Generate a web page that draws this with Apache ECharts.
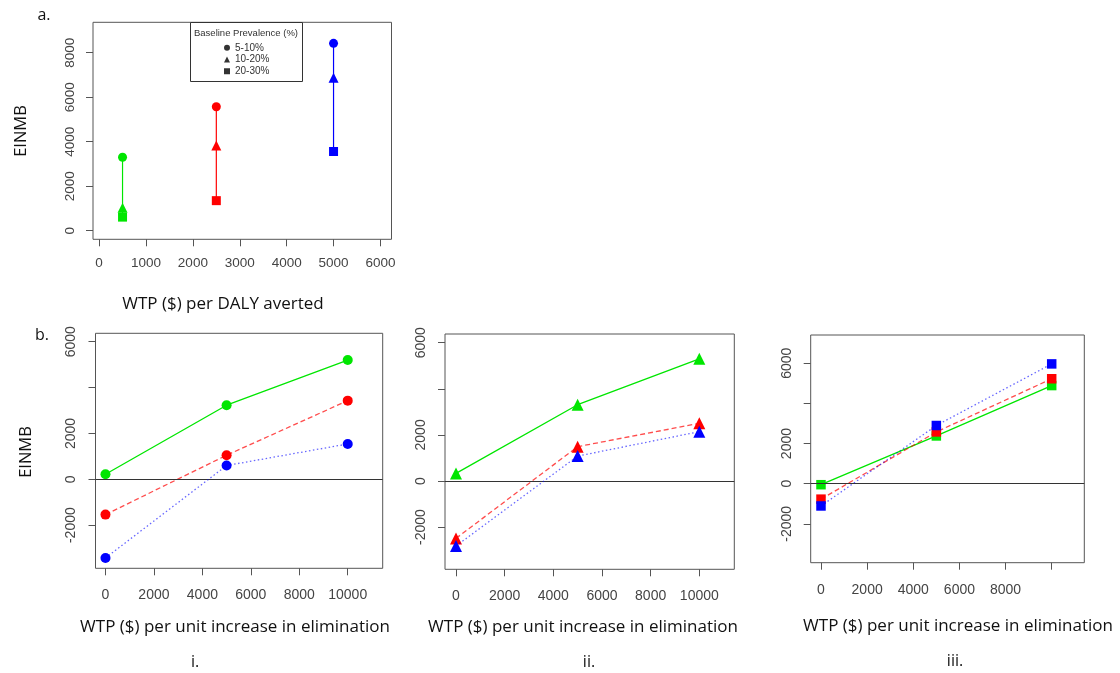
<!DOCTYPE html>
<html>
<head>
<meta charset="utf-8">
<script src="https://cdn.jsdelivr.net/npm/echarts@6/dist/echarts.min.js"></script>
<style>
html,body{margin:0;padding:0;background:#fff;}
#chart{width:1120px;height:673px;}
</style>
</head>
<body>
<div id="chart"></div>
<script>
// ---------- Panel a data ----------
const aWtpPerDaly = [500, 2500, 5000];
const aPrev5to10 = [3300, 5570, 8420];
const aPrev10to20 = [1030, 3830, 6870];
const aPrev20to30 = [610, 1350, 3560];
const aColors = ['#00e600', '#ff0000', '#0000ff'];
const prevalenceLabels = ['5-10%', '10-20%', '20-30%'];

// ---------- Panel b data ----------
const bWtpElim = [0, 5000, 10000];
// i. (circles)
const bi_green = [220, 3230, 5200];
const bi_red = [-1540, 1050, 3430];
const bi_blue = [-3430, 600, 1540];
// ii. (triangles)
const bii_green = [330, 3310, 5300];
const bii_red = [-2490, 1490, 2500];
const bii_blue = [-2820, 1080, 2140];
// iii. (squares)
const biii_green = [-50, 2380, 4890];
const biii_red = [-770, 2580, 5230];
const biii_blue = [-1110, 2900, 5970];

// ---------- tick labels ----------
const aXTicks = [0, 1000, 2000, 3000, 4000, 5000, 6000];
const aYTicks = [0, 2000, 4000, 6000, 8000];
const bXTicks = [0, 2000, 4000, 6000, 8000, 10000];
const bXLabels = [0, 2000, 4000, 6000, 8000, 10000];
const bXLabelsIII = [0, 2000, 4000, 6000, 8000];
const bYTicksI = [-2000, 0, 2000, 4000, 6000];
const bYLabelsI = [-2000, 0, 2000, 6000];

const chart = echarts.init(document.getElementById('chart'), null, {renderer: 'canvas'});

const tickFont = 'Liberation Sans, Arial, sans-serif';
const titleFont = 'Open Sans, Liberation Sans, sans-serif';
const boxColor = '#555';
const labColor = '#444';

const grids = [];
const xAxes = [];
const yAxes = [];
const series = [];

function addPanel(rect, xr, yr, xTicks, xLabels, yTicks, yLabels, fs, xMargin, yMargin) {
  const i = grids.length;
  grids.push({left: rect[0], top: rect[1], width: rect[2], height: rect[3], show: true,
    borderColor: boxColor, borderWidth: 1, backgroundColor: 'transparent', containLabel: false});
  xAxes.push({type: 'value', gridIndex: i, min: xr[0], max: xr[1], position: 'bottom',
    axisLine: {show: false, onZero: false}, splitLine: {show: false},
    axisTick: {show: true, length: 7, inside: false, customValues: xTicks, lineStyle: {color: boxColor, width: 1}},
    axisLabel: {show: true, customValues: xLabels, margin: xMargin, color: labColor, fontSize: fs, fontFamily: tickFont,
      formatter: v => String(v)}});
  yAxes.push({type: 'value', gridIndex: i, min: yr[0], max: yr[1], position: 'left',
    axisLine: {show: false, onZero: false}, splitLine: {show: false},
    axisTick: {show: true, length: 7, inside: false, customValues: yTicks, lineStyle: {color: boxColor, width: 1}},
    axisLabel: {show: true, customValues: yLabels, rotate: 90, margin: yMargin, color: labColor, fontSize: fs, fontFamily: tickFont,
      formatter: v => String(v)}});
  return i;
}

// Panel a
const pa = addPanel([93, 22.3, 298.5, 217], [-130, 6236], [-387, 9366], aXTicks, aXTicks, aYTicks, aYTicks, 13.5, 17, 16);
const aSymbols = ['circle', 'triangle', 'rect'];
const aSizes = [9, 10, 9];
for (let g = 0; g < aWtpPerDaly.length; g++) {
  const vals = [aPrev5to10[g], aPrev10to20[g], aPrev20to30[g]];
  series.push({type: 'line', xAxisIndex: pa, yAxisIndex: pa, z: 3,
    data: vals.map((v, k) => ({value: [aWtpPerDaly[g], v], symbol: aSymbols[k], symbolSize: aSizes[k]})),
    lineStyle: {color: aColors[g], width: 1.2}, itemStyle: {color: aColors[g]}, showSymbol: true, animation: false});
}
// legend dummy series
prevalenceLabels.forEach((name, k) => {
  series.push({type: 'scatter', name: name, xAxisIndex: pa, yAxisIndex: pa, data: [], symbol: aSymbols[k],
    itemStyle: {color: '#000'}});
});

// Panel b
const bPanels = [
  {rect: [95.5, 333.3, 287.2, 235], xr: [-412, 11444], yr: [-3881, 6366], sym: 'circle', size: 10,
   data: [bi_green, bi_red, bi_blue], xl: bXLabels},
  {rect: [445, 334, 289.3, 235.3], xr: [-452, 11438], yr: [-3831, 6377], sym: 'triangle', size: 12,
   data: [bii_green, bii_red, bii_blue], xl: bXLabels},
  {rect: [810.7, 335, 273.6, 227.7], xr: [-446, 11413], yr: [-3937, 7410], sym: 'rect', size: 9.5,
   data: [biii_green, biii_red, biii_blue], xl: bXLabelsIII}
];
const lineTypes = ['solid', [5, 3], [1.5, 2.5]];
const lineOpac = [1, 0.7, 0.6];
bPanels.forEach(p => {
  const idx = addPanel(p.rect, p.xr, p.yr, bXTicks, p.xl, bYTicksI, bYLabelsI, 14, 20, 17);
  // zero reference line
  series.push({type: 'line', xAxisIndex: idx, yAxisIndex: idx, data: [], z: 1,
    markLine: {silent: true, symbol: 'none', label: {show: false}, animation: false,
      lineStyle: {color: '#333', width: 1, type: 'solid'}, data: [{yAxis: 0}]}});
  p.data.forEach((vals, c) => {
    series.push({type: 'line', xAxisIndex: idx, yAxisIndex: idx, z: 3 + c,
      data: vals.map((v, k) => [bWtpElim[k], v]), symbol: p.sym, symbolSize: p.size, showSymbol: true,
      lineStyle: {color: aColors[c], width: 1.3, type: lineTypes[c], opacity: lineOpac[c]},
      itemStyle: {color: aColors[c]}, animation: false});
  });
});

function txt(x, y, s, size, rot) {
  return {type: 'text', x: x, y: y, rotation: rot || 0, z: 100,
    style: {text: s, fill: '#111', font: size + 'px ' + titleFont, align: 'center', verticalAlign: 'middle'}};
}

const graphics = [
  txt(44, 15, 'a.', 16),
  txt(42, 335, 'b.', 16),
  txt(21.5, 131, 'EINMB', 16.5, Math.PI / 2),
  txt(26, 452, 'EINMB', 16.5, Math.PI / 2),
  txt(223, 304, 'WTP ($) per DALY averted', 17),
  txt(235, 627, 'WTP ($) per unit increase in elimination', 17),
  txt(583, 627, 'WTP ($) per unit increase in elimination', 17),
  txt(958, 626, 'WTP ($) per unit increase in elimination', 17),
  txt(195, 662, 'i.', 16),
  txt(589, 662, 'ii.', 16),
  txt(955, 661, 'iii.', 16),
  {type: 'rect', z: 50, shape: {x: 190.5, y: 22.5, width: 112, height: 59}, style: {fill: '#fff', stroke: '#333', lineWidth: 1}},
  {type: 'text', z: 60, x: 246, y: 33, style: {text: 'Baseline Prevalence (%)', fill: '#333', font: '9.5px Liberation Sans, Arial, sans-serif', align: 'center', verticalAlign: 'middle'}}
];

chart.setOption({
  animation: false,
  backgroundColor: '#fff',
  grid: grids,
  xAxis: xAxes,
  yAxis: yAxes,
  legend: {
    data: [{name: '5-10%', icon: 'circle'}, {name: '10-20%', icon: 'triangle'}, {name: '20-30%', icon: 'rect'}],
    orient: 'vertical', left: 224, top: 42, itemWidth: 6, itemHeight: 6, itemGap: 0, padding: 0, z: 70,
    selectedMode: false,
    textStyle: {fontSize: 10, color: '#333', fontFamily: 'Liberation Sans, Arial, sans-serif', lineHeight: 11.7}
  },
  graphic: graphics,
  series: series
});
</script>
</body>
</html>
